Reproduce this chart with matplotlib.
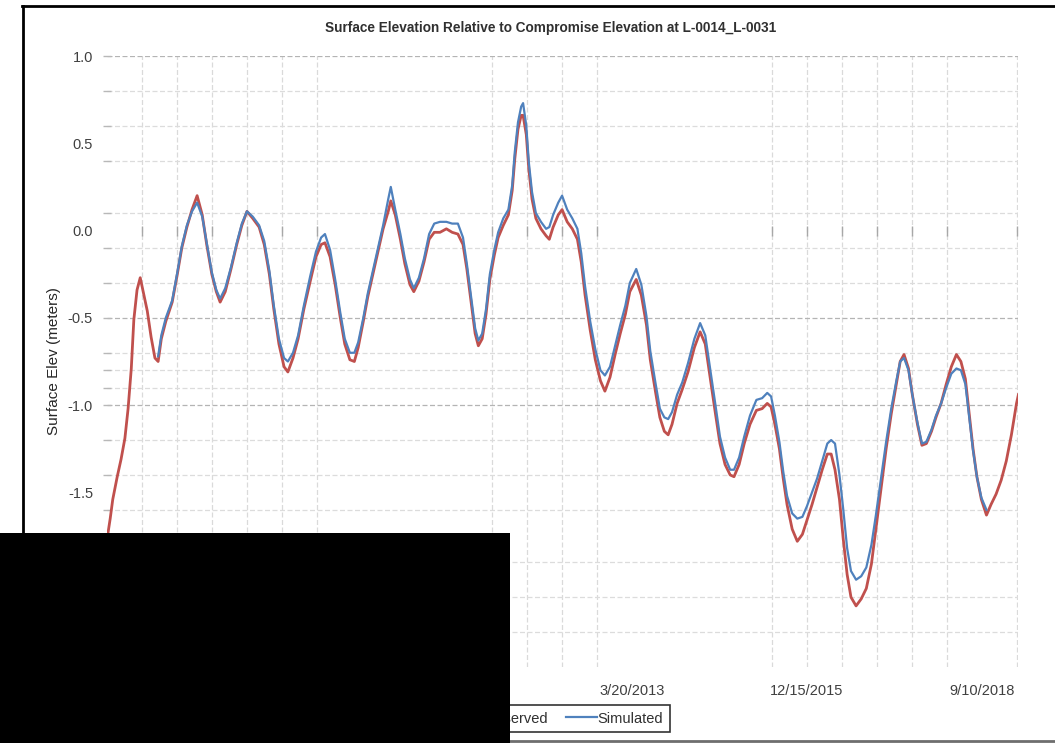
import matplotlib
matplotlib.use("Agg")
import matplotlib.pyplot as plt
import matplotlib.dates as mdates
from matplotlib.lines import Line2D
from matplotlib.patches import Rectangle
from matplotlib.ticker import FixedLocator, FuncFormatter
from datetime import datetime, timedelta

# observed lake surface (decimal year, metres relative to compromise elevation)
obs_year = [2005.00, 2005.05, 2005.09, 2005.16, 2005.22, 2005.28, 2005.33, 2005.38, 2005.42, 2005.47,
            2005.52, 2005.56, 2005.63, 2005.69, 2005.75, 2005.80, 2005.85, 2005.92, 2006.02, 2006.10,
            2006.17, 2006.25, 2006.33, 2006.41, 2006.49, 2006.56, 2006.64, 2006.71, 2006.77, 2006.85,
            2006.94, 2007.03, 2007.11, 2007.19, 2007.28, 2007.38, 2007.46, 2007.54, 2007.61, 2007.69,
            2007.77, 2007.83, 2007.91, 2007.99, 2008.08, 2008.18, 2008.27, 2008.35, 2008.41, 2008.49,
            2008.57, 2008.65, 2008.72, 2008.80, 2008.87, 2008.93, 2009.01, 2009.08, 2009.16, 2009.24,
            2009.32, 2009.40, 2009.44, 2009.51, 2009.59, 2009.66, 2009.74, 2009.80, 2009.88, 2009.96,
            2010.04, 2010.12, 2010.21, 2010.31, 2010.40, 2010.49, 2010.57, 2010.63, 2010.70, 2010.76,
            2010.81, 2010.87, 2010.93, 2010.99, 2011.06, 2011.12, 2011.20, 2011.28, 2011.34, 2011.38,
            2011.43, 2011.48, 2011.51, 2011.56, 2011.60, 2011.65, 2011.71, 2011.79, 2011.87, 2011.92,
            2011.98, 2012.06, 2012.12, 2012.20, 2012.28, 2012.36, 2012.42, 2012.48, 2012.56, 2012.64,
            2012.72, 2012.79, 2012.87, 2012.95, 2013.03, 2013.11, 2013.18, 2013.28, 2013.36, 2013.44,
            2013.50, 2013.58, 2013.65, 2013.72, 2013.78, 2013.84, 2013.92, 2014.00, 2014.09, 2014.19,
            2014.28, 2014.36, 2014.44, 2014.52, 2014.59, 2014.67, 2014.75, 2014.81, 2014.89, 2014.97,
            2015.06, 2015.16, 2015.25, 2015.33, 2015.39, 2015.45, 2015.52, 2015.58, 2015.64, 2015.72,
            2015.80, 2015.88, 2015.95, 2016.03, 2016.11, 2016.19, 2016.27, 2016.33, 2016.39, 2016.46,
            2016.52, 2016.58, 2016.64, 2016.72, 2016.80, 2016.88, 2016.96, 2017.03, 2017.11, 2017.19,
            2017.27, 2017.35, 2017.41, 2017.47, 2017.54, 2017.60, 2017.68, 2017.75, 2017.82, 2017.90,
            2017.97, 2018.05, 2018.13, 2018.21, 2018.29, 2018.36, 2018.43, 2018.49, 2018.55, 2018.61,
            2018.68, 2018.76, 2018.83, 2018.91, 2018.99, 2019.07, 2019.15, 2019.23, 2019.26]
obs_elev = [-1.77, -1.65, -1.54, -1.41, -1.31, -1.19, -1.02, -0.79, -0.51, -0.34,
            -0.27, -0.34, -0.46, -0.61, -0.73, -0.75, -0.62, -0.52, -0.41, -0.25,
            -0.10, 0.02, 0.12, 0.20, 0.09, -0.08, -0.25, -0.35, -0.41, -0.35,
            -0.22, -0.08, 0.03, 0.11, 0.07, 0.02, -0.08, -0.25, -0.45, -0.65,
            -0.78, -0.81, -0.73, -0.62, -0.45, -0.29, -0.15, -0.08, -0.07, -0.15,
            -0.31, -0.50, -0.65, -0.74, -0.75, -0.67, -0.52, -0.38, -0.25, -0.12,
            0.01, 0.11, 0.17, 0.09, -0.05, -0.19, -0.31, -0.35, -0.29, -0.18,
            -0.05, -0.01, -0.01, 0.01, -0.01, -0.02, -0.08, -0.22, -0.42, -0.59,
            -0.66, -0.62, -0.48, -0.28, -0.14, -0.04, 0.03, 0.09, 0.23, 0.41,
            0.58, 0.66, 0.66, 0.55, 0.35, 0.18, 0.07, 0.01, -0.03, -0.05,
            0.02, 0.09, 0.12, 0.05, 0.01, -0.05, -0.18, -0.37, -0.57, -0.74,
            -0.86, -0.92, -0.84, -0.71, -0.59, -0.48, -0.35, -0.28, -0.37, -0.54,
            -0.74, -0.92, -1.07, -1.15, -1.17, -1.11, -0.99, -0.91, -0.81, -0.67,
            -0.58, -0.65, -0.85, -1.05, -1.22, -1.34, -1.40, -1.41, -1.34, -1.22,
            -1.11, -1.03, -1.02, -0.99, -1.01, -1.11, -1.25, -1.42, -1.57, -1.71,
            -1.78, -1.74, -1.66, -1.57, -1.47, -1.37, -1.28, -1.28, -1.37, -1.54,
            -1.77, -1.97, -2.10, -2.15, -2.11, -2.05, -1.91, -1.71, -1.48, -1.25,
            -1.05, -0.88, -0.75, -0.71, -0.79, -0.94, -1.11, -1.23, -1.22, -1.15,
            -1.07, -0.99, -0.88, -0.78, -0.71, -0.75, -0.85, -1.05, -1.25, -1.41,
            -1.54, -1.63, -1.57, -1.51, -1.43, -1.32, -1.17, -0.99, -0.94]

# model run
sim_year = [2005.80, 2005.85, 2005.92, 2006.02, 2006.10, 2006.17, 2006.25, 2006.33, 2006.41, 2006.49,
            2006.56, 2006.64, 2006.71, 2006.77, 2006.85, 2006.94, 2007.03, 2007.11, 2007.19, 2007.28,
            2007.38, 2007.46, 2007.54, 2007.61, 2007.69, 2007.77, 2007.83, 2007.91, 2007.99, 2008.08,
            2008.18, 2008.27, 2008.35, 2008.41, 2008.49, 2008.57, 2008.65, 2008.72, 2008.80, 2008.87,
            2008.93, 2009.01, 2009.08, 2009.16, 2009.24, 2009.32, 2009.40, 2009.44, 2009.51, 2009.59,
            2009.66, 2009.74, 2009.80, 2009.88, 2009.96, 2010.04, 2010.12, 2010.21, 2010.31, 2010.40,
            2010.49, 2010.57, 2010.63, 2010.70, 2010.76, 2010.81, 2010.87, 2010.93, 2010.99, 2011.06,
            2011.12, 2011.20, 2011.28, 2011.34, 2011.38, 2011.43, 2011.48, 2011.51, 2011.56, 2011.60,
            2011.65, 2011.71, 2011.79, 2011.87, 2011.92, 2011.98, 2012.06, 2012.12, 2012.20, 2012.28,
            2012.36, 2012.42, 2012.48, 2012.56, 2012.64, 2012.72, 2012.79, 2012.87, 2012.95, 2013.03,
            2013.11, 2013.18, 2013.28, 2013.36, 2013.44, 2013.50, 2013.58, 2013.65, 2013.72, 2013.78,
            2013.84, 2013.92, 2014.00, 2014.09, 2014.19, 2014.28, 2014.36, 2014.44, 2014.52, 2014.59,
            2014.67, 2014.75, 2014.81, 2014.89, 2014.97, 2015.06, 2015.16, 2015.25, 2015.33, 2015.39,
            2015.45, 2015.52, 2015.58, 2015.64, 2015.72, 2015.80, 2015.88, 2015.95, 2016.03, 2016.11,
            2016.19, 2016.27, 2016.33, 2016.39, 2016.46, 2016.52, 2016.58, 2016.64, 2016.72, 2016.80,
            2016.88, 2016.96, 2017.03, 2017.11, 2017.19, 2017.27, 2017.35, 2017.41, 2017.47, 2017.54,
            2017.60, 2017.68, 2017.75, 2017.82, 2017.90, 2017.97, 2018.05, 2018.13, 2018.21, 2018.29,
            2018.36, 2018.43, 2018.49, 2018.55, 2018.61, 2018.68, 2018.76]
sim_elev = [-0.72, -0.60, -0.50, -0.40, -0.24, -0.09, 0.03, 0.11, 0.16, 0.08,
            -0.07, -0.24, -0.34, -0.39, -0.33, -0.21, -0.07, 0.04, 0.11, 0.08,
            0.03, -0.06, -0.23, -0.43, -0.62, -0.73, -0.75, -0.70, -0.60, -0.43,
            -0.26, -0.12, -0.04, -0.02, -0.11, -0.28, -0.47, -0.62, -0.70, -0.70,
            -0.64, -0.50, -0.36, -0.23, -0.10, 0.03, 0.18, 0.25, 0.12, -0.02,
            -0.16, -0.28, -0.33, -0.27, -0.16, -0.02, 0.04, 0.05, 0.05, 0.04,
            0.04, -0.04, -0.19, -0.39, -0.56, -0.63, -0.59, -0.45, -0.25, -0.11,
            -0.01, 0.07, 0.12, 0.26, 0.45, 0.62, 0.71, 0.73, 0.60, 0.39,
            0.22, 0.10, 0.05, 0.01, 0.02, 0.09, 0.16, 0.20, 0.12, 0.07,
            0.01, -0.13, -0.32, -0.52, -0.68, -0.80, -0.83, -0.78, -0.66, -0.54,
            -0.43, -0.30, -0.22, -0.31, -0.49, -0.69, -0.87, -1.02, -1.07, -1.08,
            -1.04, -0.94, -0.87, -0.76, -0.62, -0.53, -0.60, -0.80, -1.00, -1.18,
            -1.30, -1.37, -1.37, -1.30, -1.18, -1.06, -0.97, -0.96, -0.93, -0.95,
            -1.06, -1.21, -1.38, -1.52, -1.62, -1.65, -1.64, -1.58, -1.50, -1.42,
            -1.32, -1.22, -1.20, -1.22, -1.40, -1.60, -1.82, -1.95, -2.00, -1.98,
            -1.93, -1.80, -1.63, -1.42, -1.21, -1.02, -0.86, -0.75, -0.73, -0.80,
            -0.94, -1.10, -1.22, -1.21, -1.14, -1.06, -0.99, -0.90, -0.82, -0.79,
            -0.80, -0.88, -1.07, -1.26, -1.41, -1.53, -1.60]

series_labels = ["Observed", "Simulated"]
title = "Surface Elevation Relative to Compromise Elevation at L-0014_L-0031"


def to_date(y):
    return datetime(2005, 1, 1) + timedelta(days=(y - 2005) * 365.25)


plt.rcParams["font.family"] = ["Liberation Sans", "DejaVu Sans"]
plt.rcParams["axes.unicode_minus"] = False

W, H = 1055, 743
fig = plt.figure(figsize=(W / 100, H / 100), dpi=100)
ax = fig.add_axes([107 / W, 1 - 667 / H, (1018 - 107) / W, (667 - 56) / H])

red = "#c0504d"
blue = "#4f81bd"
ax.plot([to_date(y) for y in obs_year], obs_elev, color=red, lw=2.0, label=series_labels[0], zorder=3)
ax.plot([to_date(y) for y in sim_year], sim_elev, color=blue, lw=1.6, label=series_labels[1], zorder=4)

start = datetime(2005, 1, 1)
ax.set_xlim(start, start + timedelta(days=5206))
ax.set_ylim(-2.5, 1.0)

# date axis: labels every 1000 days, grid every 200 days
major = [mdates.date2num(start + timedelta(days=1000 * k)) for k in range(6)]
ax.xaxis.set_major_locator(FixedLocator(major))
ax.xaxis.set_major_formatter(FuncFormatter(
    lambda v, p: "{d.month}/{d.day}/{d.year}".format(d=mdates.num2date(v))))
ax.tick_params(axis="x", length=0, pad=12, labelsize=10.5, labelcolor="#404040")

vgrid = [1, 2, 3, 4, 5, 6, 11, 12, 13, 14, 19, 20, 21, 22, 23, 24, 26]
for k in vgrid:
    d = start + timedelta(days=200 * k)
    ax.axvline(d, color="#dadada", lw=0.9, ls=(0, (4, 2)), zorder=1)
    ax.plot([d], [0], marker="|", ms=7, mew=1.0, color="#a8a8a8", zorder=2)

ax.yaxis.set_major_locator(FixedLocator([1.0, 0.5, 0.0, -0.5, -1.0, -1.5, -2.0, -2.5]))
ax.yaxis.set_major_formatter(FuncFormatter(lambda v, p: "%.1f" % v))
ax.tick_params(axis="y", length=0, pad=10, labelsize=10.5, labelcolor="#404040")

hgrid = [1.0, 0.8, 0.6, 0.4, 0.1, -0.1, -0.3, -0.5, -0.7, -0.8, -0.9, -1.0,
         -1.2, -1.4, -1.6, -1.9, -2.1, -2.3]
for v in hgrid:
    dark = v in (1.0, -0.5, -1.0)
    ax.axhline(v, color="#b4b4b4" if dark else "#dcdcdc", lw=0.9,
               ls=(0, (4, 2)), zorder=1)
    ax.plot([ax.get_xlim()[0]], [v], marker="_", ms=6, mew=1.0, color="#b8b8b8",
            clip_on=False, zorder=2)

for s in ax.spines.values():
    s.set_visible(False)

ax.set_ylabel("Surface Elev (meters)", fontsize=11, color="#262626")
ax.yaxis.set_label_coords(-0.05, 0.5)

fig.text(551 / W, 1 - 28 / H, title, ha="center", va="center",
         fontsize=9.8, fontweight="bold", color="#303030")

leg = fig.legend(loc="upper right", bbox_to_anchor=(670 / W, 1 - 705 / H), ncol=2,
                 borderaxespad=0, frameon=True, fancybox=False, fontsize=10.5,
                 handlelength=2.1, columnspacing=1.3, handletextpad=0.05, borderpad=0.45)
leg.get_frame().set_edgecolor("#000000")
leg.get_frame().set_linewidth(1.2)
for t in leg.get_texts():
    t.set_color("#303030")

# window frame and the blanked-out block
fig.add_artist(Line2D([23 / W, 23 / W], [0, 1 - 6 / H], color="black", lw=2.0))
fig.add_artist(Line2D([22 / W, 1], [1 - 6 / H, 1 - 6 / H], color="black", lw=2.0))
fig.add_artist(Line2D([0, 1], [1 - 741 / H, 1 - 741 / H], color="#6e6e6e", lw=2.0))
fig.add_artist(Rectangle((0, 0), 510 / W, (H - 533) / H, transform=fig.transFigure,
                         facecolor="black", edgecolor="none", zorder=10))

fig.savefig("out.png", dpi=100)
